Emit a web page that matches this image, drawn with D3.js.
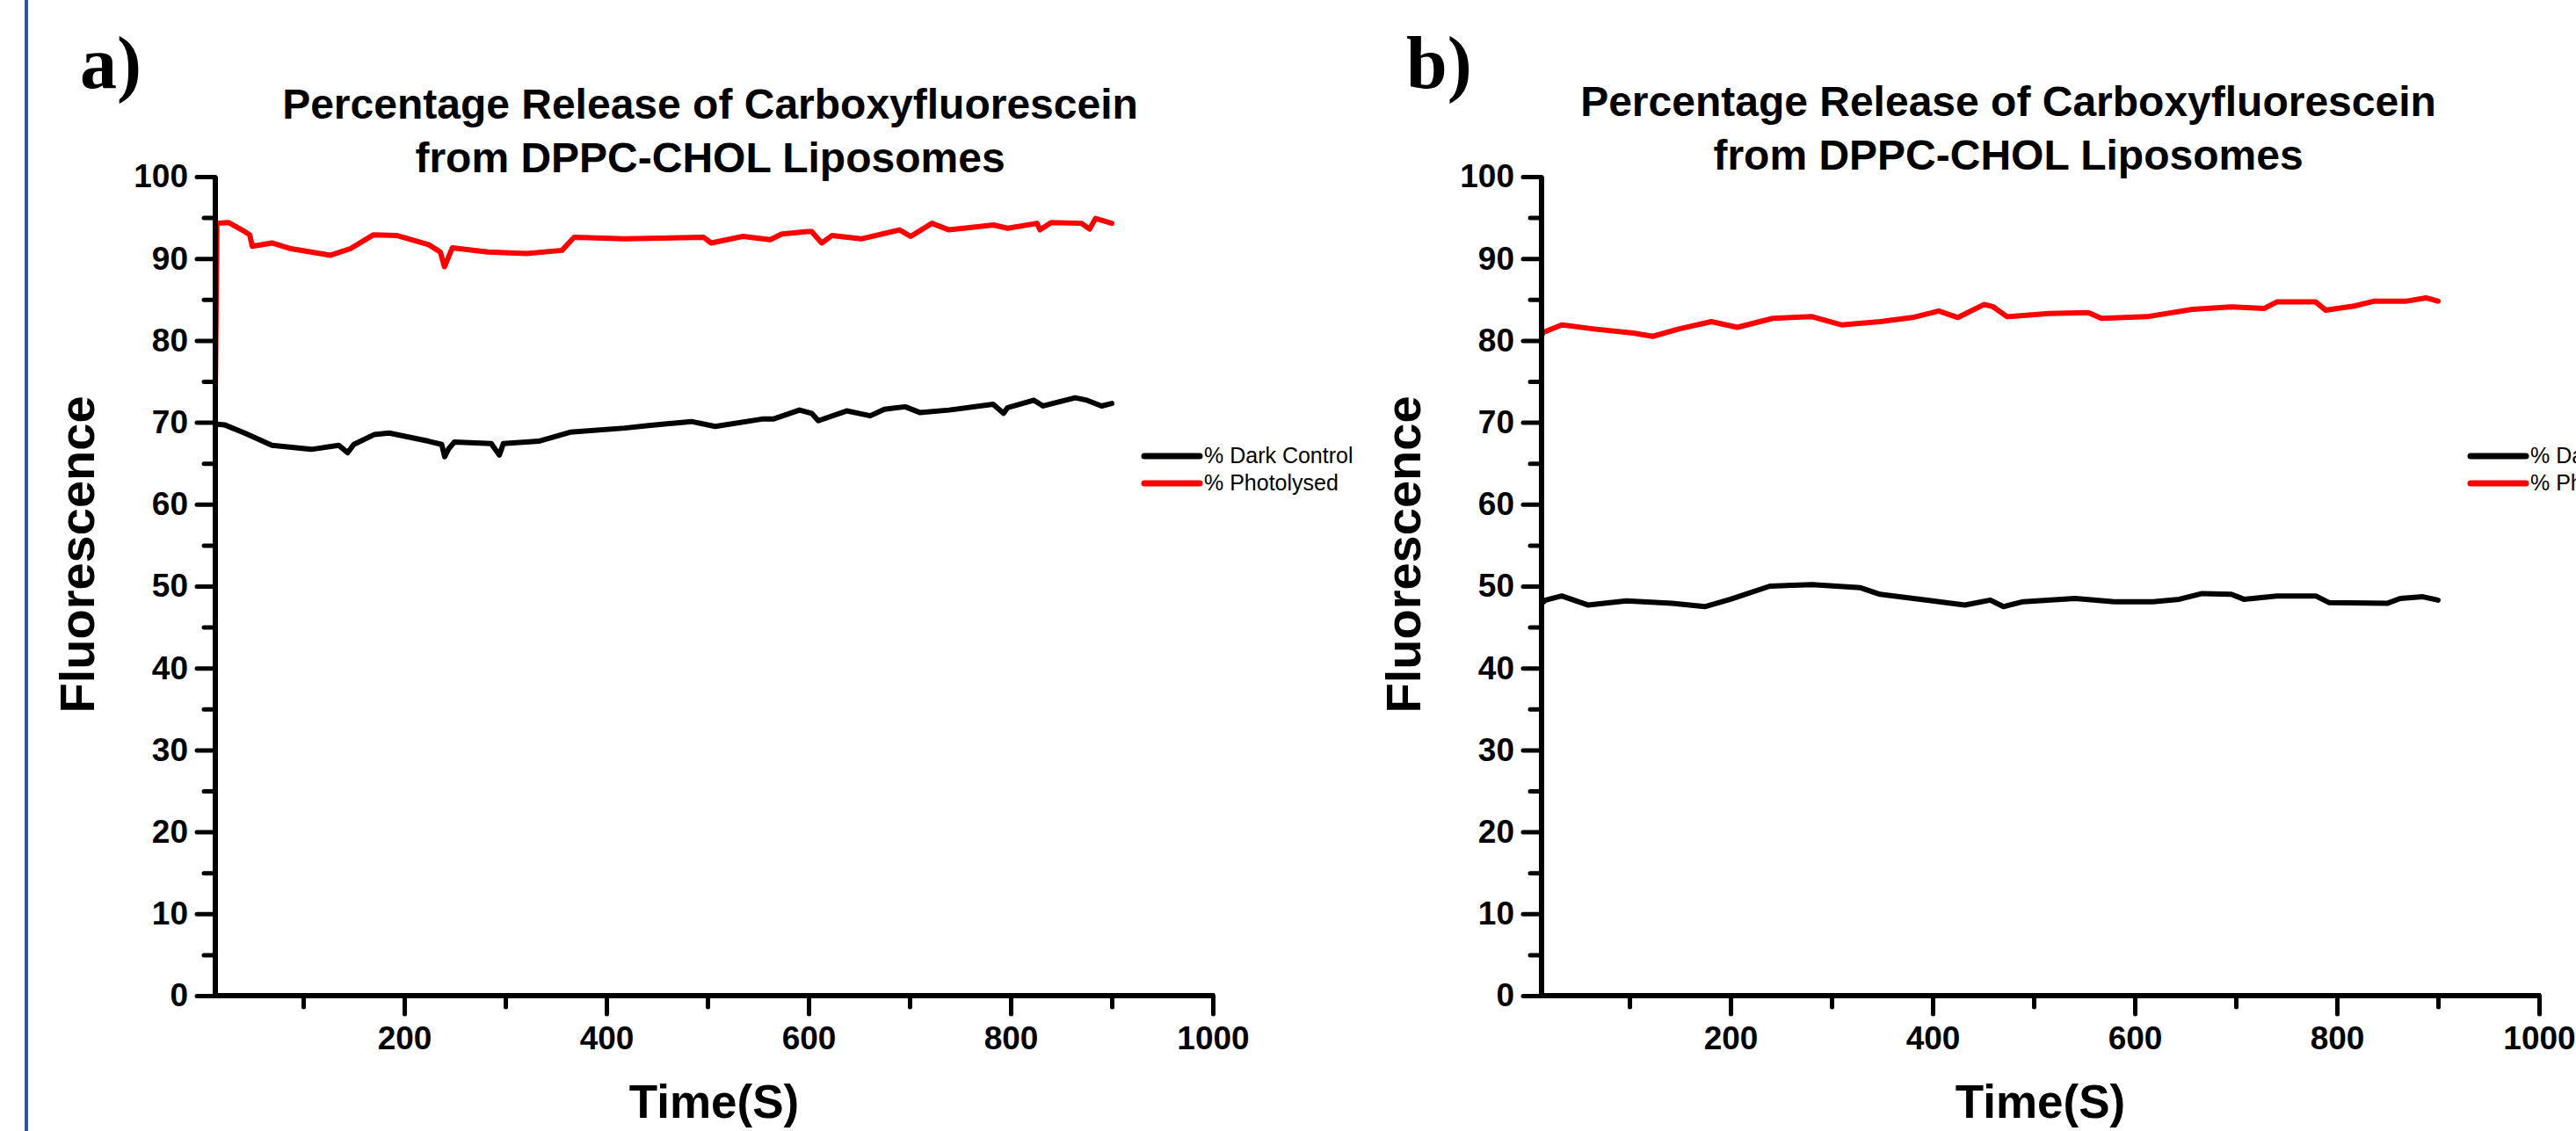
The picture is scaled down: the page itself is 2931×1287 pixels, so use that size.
<!DOCTYPE html>
<html>
<head>
<meta charset="utf-8">
<script src="https://cdnjs.cloudflare.com/ajax/libs/d3/7.8.5/d3.min.js"></script>
<style>
    html, body { margin: 0; padding: 0; background: #fff; }
    svg { display: block; }
</style>
</head>
<body>
<div id="chart"></div>
<script>
// ---- data ----
// panel a
var timeA_dark = [13, 22, 42, 69, 108, 135, 144, 150, 170, 185, 224, 237, 240, 244, 249.6, 286, 294, 298, 333, 364, 418, 441.6, 484, 507.6, 554, 565, 591, 603, 609.6, 637.7, 661, 675, 695.6, 710, 739, 782.6, 792.8, 797, 823, 832, 863.8, 875.4, 889.9, 900];
var darkA = [69.8, 69.7, 68.7, 67.2, 66.7, 67.2, 66.3, 67.3, 68.5, 68.7, 67.7, 67.3, 65.8, 66.8, 67.6, 67.4, 66.0, 67.4, 67.7, 68.8, 69.3, 69.6, 70.1, 69.5, 70.4, 70.4, 71.5, 71.1, 70.2, 71.4, 70.8, 71.6, 71.9, 71.2, 71.5, 72.2, 71.1, 71.8, 72.7, 72.0, 73.0, 72.7, 72.0, 72.3];
var timeA_photo = [13, 14.6, 26, 42, 47, 49.6, 69, 88, 127, 146.6, 169.6, 193, 224, 235.6, 239.7, 247.5, 282.6, 321, 356, 368, 418, 496, 503.6, 535, 562, 573.6, 598.8, 603, 613, 623, 652, 690, 701, 722, 739, 783, 797, 826, 829, 840, 870, 878, 884, 900];
var photoA = [73.6, 94.3, 94.4, 93.3, 92.9, 91.5, 91.9, 91.2, 90.4, 91.2, 92.9, 92.8, 91.7, 90.8, 89.0, 91.3, 90.8, 90.6, 91.0, 92.6, 92.4, 92.6, 91.9, 92.7, 92.3, 93.0, 93.3, 93.3, 91.9, 92.8, 92.4, 93.5, 92.7, 94.3, 93.5, 94.1, 93.7, 94.3, 93.5, 94.4, 94.3, 93.6, 94.9, 94.3];

// panel b
var timeB_dark = [13, 17, 33, 58.8, 97, 142, 174.5, 200, 238.9, 280.6, 328.7, 348, 393, 431.8, 457, 470, 489.6, 541, 579.7, 618, 644, 666.5, 695.5, 708, 740.5, 779, 792, 849.6, 862.6, 885, 900];
var darkB = [47.9, 48.3, 48.8, 47.7, 48.2, 47.9, 47.5, 48.4, 50.0, 50.2, 49.8, 49.0, 48.3, 47.7, 48.3, 47.5, 48.1, 48.5, 48.1, 48.1, 48.4, 49.1, 49.0, 48.4, 48.8, 48.8, 48.0, 47.9, 48.5, 48.7, 48.3];
var timeB_photo = [13, 15, 33, 65, 103.7, 123, 148.7, 181, 206.7, 241.7, 280.6, 309.6, 348, 380, 406, 425, 451, 460, 473.6, 515, 554, 567, 612, 657, 695, 727.7, 740.5, 779, 788.7, 817, 837, 869, 888, 900];
var photoB = [80.6, 81.0, 81.9, 81.4, 80.9, 80.5, 81.4, 82.3, 81.6, 82.7, 82.9, 81.9, 82.3, 82.8, 83.6, 82.8, 84.4, 84.1, 82.9, 83.3, 83.4, 82.7, 82.9, 83.8, 84.1, 83.9, 84.7, 84.7, 83.7, 84.2, 84.8, 84.8, 85.2, 84.8];

// axes
var xMajorTicks = [200, 400, 600, 800, 1000];
var xMinorTicks = [100, 300, 500, 700, 900];
var yMajorTicks = [0, 10, 20, 30, 40, 50, 60, 70, 80, 90, 100];
var yMinorTicks = [5, 15, 25, 35, 45, 55, 65, 75, 85, 95];
var xDomain = [13, 1000];
var yDomain = [0, 100];

var seriesNames = ["% Dark Control", "% Photolysed"];
var seriesColors = ["#000000", "#ff0000"];
var titleLines = ["Percentage Release of Carboxyfluorescein", "from DPPC-CHOL Liposomes"];

var W = 2931, H = 1287;
var sans = "'Liberation Sans', Arial, sans-serif";

var svg = d3.select("#chart")
    .append("svg")
    .attr("width", W)
    .attr("height", H);

svg.append("rect")
    .attr("width", W)
    .attr("height", H)
    .style("fill", "#fff");

// blue slide border on the left
svg.append("line")
    .attr("x1", 30).attr("x2", 30)
    .attr("y1", 0).attr("y2", H)
    .style("stroke", "#2f5597")
    .style("stroke-width", 4);

function drawPanel(p) {
    var x = d3.scaleLinear().domain(xDomain).range([p.left, p.left + 1135]);
    var y = d3.scaleLinear().domain(yDomain).range([1133, 201]);

    var g = svg.append("g");

    // panel letter
    g.append("text")
        .attr("x", p.left - 154)
        .attr("y", 100)
        .text(p.letter)
        .style("font-family", "'Liberation Serif', 'Times New Roman', serif")
        .style("font-weight", "bold")
        .style("font-size", "84px");

    // title, two lines
    g.selectAll("text.title")
        .data(titleLines)
        .enter()
        .append("text")
        .attr("class", "title")
        .attr("x", p.titleX)
        .attr("y", function (d, i) { return p.titleY + i * 61; })
        .attr("text-anchor", "middle")
        .text(function (d) { return d; })
        .style("font-family", sans)
        .style("font-weight", "bold")
        .style("font-size", "48px");

    // lines
    var line = d3.line()
        .x(function (d) { return x(d[0]); })
        .y(function (d) { return y(d[1]); });

    var sets = [d3.zip(p.darkT, p.darkV), d3.zip(p.photoT, p.photoV)];
    sets.forEach(function (s, i) {
        g.append("path")
            .datum(s)
            .attr("d", line)
            .style("fill", "none")
            .style("stroke", seriesColors[i])
            .style("stroke-width", 6)
            .style("stroke-linejoin", "round")
            .style("stroke-linecap", "round");
    });

    // y axis (major + minor)
    g.append("g")
        .attr("transform", "translate(" + p.left + ",0)")
        .call(d3.axisLeft(y).tickValues(yMajorTicks).tickSize(21).tickPadding(10).tickFormat(d3.format("d")));
    g.append("g")
        .attr("transform", "translate(" + p.left + ",0)")
        .call(d3.axisLeft(y).tickValues(yMinorTicks).tickSize(13).tickFormat(""));

    // x axis (major + minor)
    g.append("g")
        .attr("transform", "translate(0,1133)")
        .call(d3.axisBottom(x).tickValues(xMajorTicks).tickSize(21).tickPadding(14).tickFormat(d3.format("d")));
    g.append("g")
        .attr("transform", "translate(0,1133)")
        .call(d3.axisBottom(x).tickValues(xMinorTicks).tickSize(13).tickFormat(""));

    // axis spines drawn as plain thick lines instead of the domain paths
    g.selectAll(".domain").remove();
    g.append("line")
        .attr("x1", p.left).attr("x2", p.left)
        .attr("y1", y(100)).attr("y2", y(0))
        .style("stroke", "#000").style("stroke-width", 6);
    g.append("line")
        .attr("x1", p.left - 3).attr("x2", x(1000) + 2)
        .attr("y1", y(0)).attr("y2", y(0))
        .style("stroke", "#000").style("stroke-width", 6);

    g.selectAll(".tick line")
        .style("stroke", "#000")
        .style("stroke-width", 5)
        .style("stroke-linecap", "round");

    g.selectAll(".tick text")
        .style("font-family", sans)
        .style("font-weight", "bold")
        .style("font-size", "37px")
        .style("fill", "#000");

    // axis titles
    g.append("text")
        .attr("transform", "translate(" + (p.left - 138) + "," + 631 + ") rotate(-90)")
        .attr("text-anchor", "middle")
        .text("Fluorescence")
        .style("font-family", sans)
        .style("font-weight", "bold")
        .style("font-size", "56px");

    g.append("text")
        .attr("x", (x(13) + x(1000)) / 2)
        .attr("y", 1272)
        .attr("text-anchor", "middle")
        .text("Time(S)")
        .style("font-family", sans)
        .style("font-weight", "bold")
        .style("font-size", "53px");

    // legend
    var lg = g.append("g")
        .attr("transform", "translate(" + (p.left + 1057) + ",519)");
    seriesNames.forEach(function (name, i) {
        lg.append("line")
            .attr("x1", 0).attr("x2", 63)
            .attr("y1", i * 31).attr("y2", i * 31)
            .style("stroke", seriesColors[i])
            .style("stroke-width", 7)
            .style("stroke-linecap", "round");
        lg.append("text")
            .attr("x", 68)
            .attr("y", i * 31 + 8)
            .text(name)
            .style("font-family", sans)
            .style("font-size", "25px");
    });
}

drawPanel({letter: "a)", left: 245, titleX: 808, titleY: 135,
    darkT: timeA_dark, darkV: darkA, photoT: timeA_photo, photoV: photoA});
drawPanel({letter: "b)", left: 1754, titleX: 2285, titleY: 132,
    darkT: timeB_dark, darkV: darkB, photoT: timeB_photo, photoV: photoB});
</script>
</body>
</html>
